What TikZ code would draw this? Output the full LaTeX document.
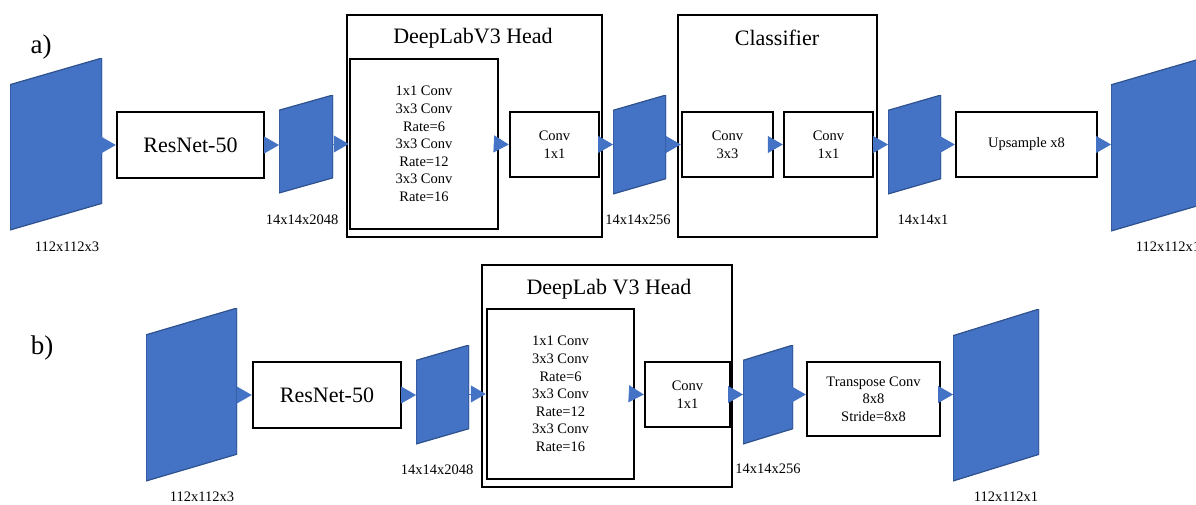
\documentclass[tikz,border=0pt]{standalone}
\usepackage{fontspec}
\setmainfont{Liberation Serif}
\usetikzlibrary{arrows.meta,calc}
\definecolor{fmblue}{HTML}{4472C4}
\definecolor{fmedge}{HTML}{2F528F}
\begin{document}
\begin{tikzpicture}[x=1pt, y=-1pt,
    blk/.style={draw, line width=2.5pt, inner sep=0pt, align=center, font=\fontsize{14.5}{17.6}\selectfont},
    frame/.style={draw, line width=2.5pt, inner sep=0pt},
    fmap/.style={inner sep=0pt, outer sep=0pt, path picture={
        \draw[fill=fmblue, draw=fmedge, line width=1.2pt]
          (path picture bounding box.south west)
          -- ($(path picture bounding box.south west)!0.845!(path picture bounding box.north west)$)
          -- (path picture bounding box.north east)
          -- ($(path picture bounding box.north east)!0.845!(path picture bounding box.south east)$)
          -- cycle;}},
    flow/.style={draw=fmblue, line width=0.8pt, -{Triangle[length=15pt, width=17pt]}},
    dim/.style={font=\fontsize{14.5}{17.6}\selectfont},
    big/.style={font=\fontsize{22}{26}\selectfont}]
    \useasboundingbox (0,0) rectangle (1196,504);
    \clip (0,0) rectangle (1196,504);

    % Row a
    \node[font=\fontsize{27}{30}\selectfont] (la) at (41,47) {a)};
    \node[frame, minimum width=255pt, minimum height=222pt] (headA) at (474.5,126) {};
    \node[big] (tA) at (473,38) {DeepLabV3 Head};
    \node[frame, minimum width=199pt, minimum height=222pt] (clsA) at (777.5,126) {};
    \node[big] (tC) at (777,38) {Classifier};

    \node[fmap, minimum width=92pt, minimum height=172pt] (in1) at (56,144) {};
    \node[blk, big, minimum width=147pt, minimum height=66pt] (res1) at (190.5,145) {ResNet-50};
    \node[fmap, minimum width=54pt, minimum height=98pt] (fm1) at (306,144) {};
    \node[blk, minimum width=148pt, minimum height=170pt] (aspp1) at (424,144)
        {1x1 Conv\\3x3 Conv\\Rate=6\\3x3 Conv\\Rate=12\\3x3 Conv\\Rate=16};
    \node[blk, minimum width=89pt, minimum height=65pt] (proj1) at (554.5,144.5) {Conv\\1x1};
    \node[fmap, minimum width=53pt, minimum height=99pt] (fm2) at (639.5,144.5) {};
    \node[blk, minimum width=91pt, minimum height=65pt] (cls1) at (727.5,144.5) {Conv\\3x3};
    \node[blk, minimum width=89pt, minimum height=65pt] (cls2) at (828.5,144.5) {Conv\\1x1};
    \node[fmap, minimum width=53pt, minimum height=99pt] (fm3) at (914.5,144.5) {};
    \node[blk, minimum width=141pt, minimum height=65pt] (up1) at (1026.5,144.5) {Upsample x8};
    \node[fmap, minimum width=92pt, minimum height=173pt] (out1) at (1157,144.5) {};

    \node[dim] (d1) at (67,247) {112x112x3};
    \node[dim] (d2) at (302,220) {14x14x2048};
    \node[dim] (d3) at (638,220) {14x14x256};
    \node[dim] (d4) at (923,220) {14x14x1};
    \node[dim] (d5) at (1168,247) {112x112x1};

    % Row b
    \node[font=\fontsize{27}{30}\selectfont] (lb) at (42,348) {b)};
    \node[frame, minimum width=250pt, minimum height=222pt] (headB) at (607,376) {};
    \node[big] (tB) at (609,289) {DeepLab V3 Head};

    \node[fmap, minimum width=91pt, minimum height=173pt] (in2) at (191.5,394.5) {};
    \node[blk, big, minimum width=148pt, minimum height=66pt] (res2) at (327,395) {ResNet-50};
    \node[fmap, minimum width=53pt, minimum height=99pt] (fm4) at (442.5,394.5) {};
    \node[blk, minimum width=147pt, minimum height=170pt] (aspp2) at (560.5,394)
        {1x1 Conv\\3x3 Conv\\Rate=6\\3x3 Conv\\Rate=12\\3x3 Conv\\Rate=16};
    \node[blk, minimum width=85pt, minimum height=65pt] (proj2) at (687.5,394.5) {Conv\\1x1};
    \node[fmap, minimum width=50pt, minimum height=99pt] (fm5) at (768,394.5) {};
    \node[blk, minimum width=133pt, minimum height=74pt] (tconv) at (873.5,399)
        {Transpose Conv\\8x8\\Stride=8x8};
    \node[fmap, minimum width=86pt, minimum height=172pt] (out2) at (996,395) {};

    \node[dim] (d6) at (202,497) {112x112x3};
    \node[dim] (d7) at (437,470) {14x14x2048};
    \node[dim] (d8) at (768,469) {14x14x256};
    \node[dim] (d9) at (1006,497) {112x112x1};

    % Edges a
    \draw[flow] (in1.east |- res1.west) -- (res1.west);
    \draw[flow] (res1.east) -- (fm1.west |- res1.east);
    \draw[flow] (fm1.east |- aspp1.west) -- (aspp1.west);
    \draw[flow] ([xshift=-3pt]aspp1.east) -- (proj1.west);
    \draw[flow] (proj1.east) -- (fm2.west |- proj1.east);
    \draw[flow] (fm2.east |- cls1.west) -- (cls1.west);
    \draw[flow] (cls1.east) -- (cls2.west);
    \draw[flow] (cls2.east) -- (fm3.west |- cls2.east);
    \draw[flow] (fm3.east |- up1.west) -- (up1.west);
    \draw[flow] (up1.east) -- (out1.west |- up1.east);

    % Edges b
    \draw[flow] (in2.east |- res2.west) -- (res2.west);
    \draw[flow] (res2.east) -- (fm4.west |- res2.east);
    \draw[flow] (fm4.east |- aspp2.west) -- (aspp2.west);
    \draw[flow] ([xshift=-2pt]aspp2.east) -- (proj2.west);
    \draw[flow] (proj2.east) -- (fm5.west |- proj2.east);
    \draw[flow] (fm5.east |- proj2.east) -- (tconv.west |- proj2.east);
    \draw[flow] (tconv.east |- proj2.east) -- (out2.west |- proj2.east);
\end{tikzpicture}
\end{document}
